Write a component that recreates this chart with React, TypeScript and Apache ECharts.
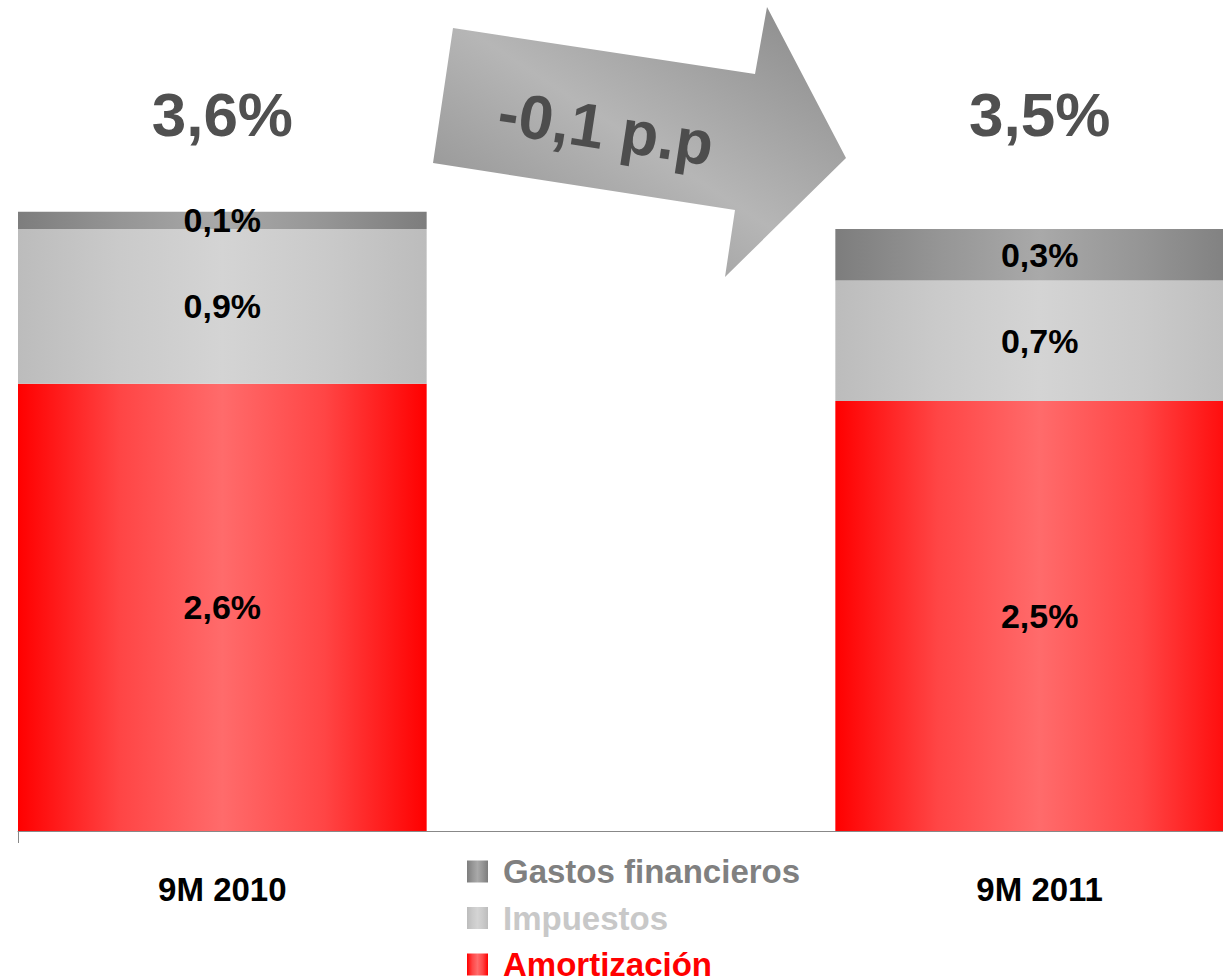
import React, { useEffect, useRef } from "react";
import * as echarts from "echarts";

const categories = ["9M 2010", "", "9M 2011"];
const amortizacion: (number | null)[] = [2.6, null, 2.5];
const impuestos: (number | null)[] = [0.9, null, 0.7];
const gastos: (number | null)[] = [0.1, null, 0.3];
const seriesNames = ["Amortización", "Impuestos", "Gastos financieros"];
const arrowLabel = "-0,1 p.p";

const FONT = "'Liberation Sans', Arial, Helvetica, sans-serif";

const fmt = (v: number) => v.toFixed(1).replace(".", ",") + "%";

const hGrad = (edge: string, quarter: string, mid: string) => ({
  type: "linear",
  x: 0,
  y: 0,
  x2: 1,
  y2: 0,
  colorStops: [
    { offset: 0, color: edge },
    { offset: 0.25, color: quarter },
    { offset: 0.5, color: mid },
    { offset: 0.75, color: quarter },
    { offset: 1, color: edge },
  ],
});

export default function App() {
  const ref = useRef<HTMLDivElement>(null);
  useEffect(() => {
    if (!ref.current) return;
    const chart = echarts.init(ref.current, undefined, { renderer: "svg" });
    const label = {
      show: true,
      position: "inside",
      formatter: (p: any) => fmt(p.value),
      fontFamily: FONT,
      fontSize: 34,
      fontWeight: "bold",
      color: "#000",
    };
    const mk = (
      name: string,
      data: (number | null)[],
      edge: string,
      quarter: string,
      mid: string
    ) => ({
      name,
      type: "bar",
      stack: "total",
      barCategoryGap: "0%",
      data: data.map((v) => (v === null ? "-" : v)),
      itemStyle: { color: hGrad(edge, quarter, mid) },
      label,
    });
    chart.setOption({
      animation: false,
      grid: { left: 18, top: 57, width: 1226, height: 774 },
      xAxis: {
        type: "category",
        data: categories,
        axisLine: { show: true, lineStyle: { color: "#888", width: 1 } },
        axisTick: {
          show: true,
          length: 12,
          interval: (i: number) => i === 0,
          lineStyle: { color: "#888" },
        },
        axisLabel: {
          fontFamily: FONT,
          fontSize: 33,
          fontWeight: "bold",
          color: "#000",
          margin: 42,
          lineHeight: 33,
        },
      },
      yAxis: { type: "value", min: 0, max: 4.5, show: false, splitLine: { show: false } },
      legend: {
        orient: "vertical",
        left: 467,
        top: 855,
        padding: 0,
        itemWidth: 21,
        itemHeight: 22,
        itemGap: 13.5,
        icon: "rect",
        selectedMode: false,
        textStyle: {
          fontFamily: FONT,
          fontSize: 33,
          fontWeight: "bold",
          lineHeight: 22,
          padding: [0, 0, 0, 10],
        },
        data: [
          { name: seriesNames[2], textStyle: { color: "#808080" } },
          { name: seriesNames[1], textStyle: { color: "#c8c8c8" } },
          { name: seriesNames[0], textStyle: { color: "#ff0000" } },
        ],
      },
      series: [
        mk(seriesNames[0], amortizacion, "#ff0000", "#ff4545", "#ff6b6b"),
        mk(seriesNames[1], impuestos, "#bcbcbc", "#cacaca", "#d4d4d4"),
        mk(seriesNames[2], gastos, "#7d7d7d", "#959595", "#a9a9a9"),
      ],
    });

    const totals: any[] = [];
    categories.forEach((c, i) => {
      if (amortizacion[i] === null) return;
      const sum = (amortizacion[i] || 0) + (impuestos[i] || 0) + (gastos[i] || 0);
      const x = chart.convertToPixel({ xAxisIndex: 0 }, i) as number;
      totals.push({
        type: "text",
        x,
        y: 114,
        style: {
          text: fmt(sum),
          x: 0,
          y: 0,
          align: "center",
          verticalAlign: "middle",
          font: `bold 62px ${FONT}`,
          fill: "#505050",
        },
      });
    });

    chart.setOption({
      graphic: [
        {
          type: "polygon",
          shape: {
            points: [
              [453, 28],
              [755, 74],
              [767, 7],
              [846, 158],
              [725, 277],
              [735, 210],
              [433, 163],
            ],
          },
          style: {
            fill: {
              type: "linear",
              x: 0,
              y: 1,
              x2: 1,
              y2: 0,
              colorStops: [
                { offset: 0, color: "#888888" },
                { offset: 0.5, color: "#b6b6b6" },
                { offset: 1, color: "#888888" },
              ],
            },
          },
        },
        {
          type: "text",
          x: 606,
          y: 128,
          rotation: -0.152,
          style: {
            text: arrowLabel,
            x: 0,
            y: 0,
            align: "center",
            verticalAlign: "middle",
            font: `bold 62px ${FONT}`,
            fill: "#4d4d4d",
          },
        },
        ...totals,
      ],
    });
    return () => chart.dispose();
  }, []);
  return (
    <div
      style={{
        position: "fixed",
        left: 0,
        top: 0,
        width: 1223,
        height: 979,
        overflow: "hidden",
        background: "#fff",
      }}
    >
      <div ref={ref} style={{ width: 1260, height: 1020 }} />
    </div>
  );
}
